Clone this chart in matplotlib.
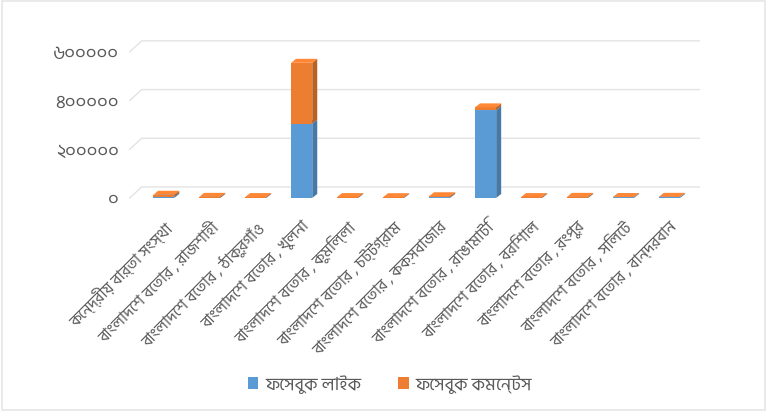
import matplotlib
matplotlib.use('Agg')
import numpy as np
import matplotlib.pyplot as plt
from matplotlib.patches import Polygon, Rectangle
from matplotlib.lines import Line2D

# --- data ---
stations = ['কেন্দ্রীয় বার্তা সংস্থা',
            'বাংলাদেশ বেতার , রাজশাহী',
            'বাংলাদেশ বেতার , ঠাকুরগাঁও',
            'বাংলাদেশ বেতার , খুলনা',
            'বাংলাদেশ বেতার , কুমিল্লা',
            'বাংলাদেশ বেতার , চট্টগ্রাম',
            'বাংলাদেশ বেতার , কক্সবাজার',
            'বাংলাদেশ বেতার , রাঙামাটি',
            'বাংলাদেশ বেতার , বরিশাল',
            'বাংলাদেশ বেতার , রংপুর',
            'বাংলাদেশ বেতার , সিলেট',
            'বাংলাদেশ বেতার , বান্দরবান']
fb_likes = [5000, 500, 500, 305000, 500, 500, 2000, 360000, 500, 500, 3000, 4000]
fb_comments = [8000, 4000, 3000, 250000, 3000, 2500, 5000, 12000, 3000, 4000, 500, 500]
series_names = ['ফেসবুক লাইক', 'ফেসবুক কমেন্টস']
y_ticks = [0, 200000, 400000, 600000]
y_tick_labels = ['০', '২০০০০০', '৪০০০০০', '৬০০০০০']

plt.rcParams['font.family'] = ['Hind Siliguri', 'DejaVu Sans']
txt_col = '#595959'
blue, orange = '#5b9bd5', '#ed7d31'

fig = plt.figure(figsize=(7.72, 4.15), dpi=100)
fig.patches.append(Rectangle((0.003, 0.012), 0.988, 0.985, transform=fig.transFigure,
                             fill=False, edgecolor='#e6e6e6', linewidth=1.2))
ax = fig.add_axes([0.168, 0.523, 0.738, 0.352])
ax.set_xlim(-0.74, 11.65)
ax.set_ylim(0, 600000)
for s in ax.spines.values():
    s.set_visible(False)

x = np.arange(len(stations))
w = 0.46

# depth of the fake 3D effect, in pixels -> data units
fig.canvas.draw()
p0 = ax.transData.transform((0, 0))
def px2data(dx, dy):
    q = ax.transData.inverted().transform((p0[0] + dx, p0[1] + dy))
    return q[0], q[1]
bdx, bdy = px2data(5, 4)
wdx, wdy = px2data(12, 11)

# back-wall gridlines
x_left, x_right = ax.get_xlim()
for t in y_ticks:
    ax.add_line(Line2D([x_left, x_left + wdx, x_right], [t, t + wdy, t + wdy],
                       color='#e3e3e3', linewidth=1, clip_on=False, zorder=0))

def shade(c, f):
    c = np.array(matplotlib.colors.to_rgb(c))
    return tuple(np.clip(c * f, 0, 1))

def bar3d(xc, y0, h, col):
    if h <= 0:
        return
    xa, xb = xc - w / 2, xc + w / 2
    y1 = y0 + h
    ax.add_patch(Polygon([(xa, y0), (xb, y0), (xb, y1), (xa, y1)], closed=True,
                         facecolor=col, edgecolor='none', clip_on=False, zorder=3))
    ax.add_patch(Polygon([(xb, y0), (xb + bdx, y0 + bdy), (xb + bdx, y1 + bdy), (xb, y1)],
                         closed=True, facecolor=shade(col, 0.78), edgecolor='none',
                         clip_on=False, zorder=3))
    ax.add_patch(Polygon([(xa, y1), (xb, y1), (xb + bdx, y1 + bdy), (xa + bdx, y1 + bdy)],
                         closed=True, facecolor=shade(col, 1.08), edgecolor='none',
                         clip_on=False, zorder=3))

for i in range(len(stations)):
    bar3d(x[i], 0, fb_likes[i], blue)
    bar3d(x[i], fb_likes[i], fb_comments[i], orange)

ax.set_yticks(y_ticks)
ax.set_yticklabels(y_tick_labels)
ax.set_xticks(x)
ax.set_xticklabels(stations, rotation=45, ha='right', rotation_mode='anchor')
ax.tick_params(axis='y', length=0, pad=8, labelsize=13.5, labelcolor=txt_col)
ax.tick_params(axis='x', length=0, pad=15, labelsize=11.5, labelcolor=txt_col)

handles = [Rectangle((0, 0), 1, 1, facecolor=blue), Rectangle((0, 0), 1, 1, facecolor=orange)]
fig.legend(handles, series_names, loc='center', bbox_to_anchor=(0.505, 0.074), ncol=2,
           frameon=False, fontsize=13, handlelength=0.6, handleheight=0.6,
           handletextpad=0.4, columnspacing=2.0, labelcolor=txt_col)

fig.savefig('out.png', dpi=100)
